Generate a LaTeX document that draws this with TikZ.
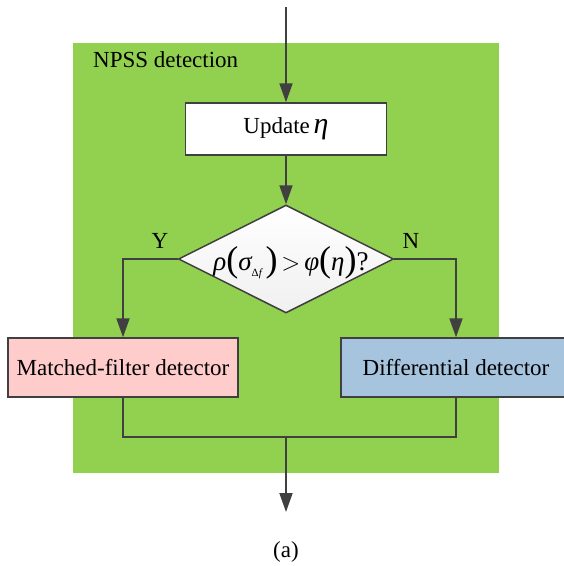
\documentclass[tikz,border=0pt]{standalone}
\usepackage{fontspec}
\setmainfont{Liberation Serif}
\usetikzlibrary{shapes.geometric,arrows.meta}
\definecolor{bggreen}{HTML}{92D050}
\definecolor{mfpink}{HTML}{FFCCCC}
\definecolor{dfblue}{HTML}{A6C4DE}
\definecolor{linegray}{HTML}{404040}
\newcommand{\gk}[1]{{\itshape #1}}
\newcommand{\bigparL}{\raisebox{-1pt}{\fontsize{36}{36}\selectfont(}}
\newcommand{\bigparR}{\raisebox{-1pt}{\fontsize{36}{36}\selectfont)}}
\begin{document}
\begin{tikzpicture}[x=1pt,y=-1pt,
  font=\fontsize{23}{27}\selectfont,
  region/.style={fill=bggreen, draw=none, inner sep=0pt},
  procbox/.style={draw=linegray, line width=1.5pt, inner sep=0pt, minimum height=58pt},
  decision/.style={shape=diamond, draw=linegray, line width=1.5pt, inner sep=0pt,
    minimum width=215pt, minimum height=108pt, top color=white, bottom color=gray!12},
  conn/.style={draw=linegray, line width=1.8pt},
  arr/.style={conn, -{Triangle[length=19pt,width=13pt]}},
  lbl/.style={inner sep=0pt}
]
\useasboundingbox (0,0) rectangle (564,566);
\fill[white] (0,0) rectangle (564,566);
\node[region, minimum width=426pt, minimum height=430pt] (bg) at (286,258) {};
\node[lbl, anchor=base west] (title) at (93,67) {NPSS detection};

\node[procbox, fill=white, minimum width=201pt, minimum height=52pt] (upd) at (286,129) {Update\,{\fontsize{30}{30}\selectfont\gk{η}}};
\node[decision] (dia) at (286,259) {};
\node[lbl, anchor=base] (cond) at (291,270) {{\fontsize{27}{30}\selectfont\gk{ρ}}\bigparL{\fontsize{27}{30}\selectfont\gk{σ}}\raisebox{-6pt}{\fontsize{11}{12}\selectfont Δ\gk{f}}\,\bigparR\,{\fontsize{24}{26}\selectfont$>$}\,{\fontsize{27}{30}\selectfont\gk{φ}}\bigparL{\fontsize{27}{30}\selectfont\gk{η}}\bigparR{\fontsize{27}{30}\selectfont ?}};
\node[procbox, fill=mfpink, minimum width=230pt, minimum height=59pt] (mf) at (123,367.5) {Matched-filter detector};
\node[procbox, fill=dfblue, minimum width=230pt, minimum height=59pt] (df) at (456,367.5) {Differential detector};

\node[lbl] (ylab) at (160,241) {Y};
\node[lbl] (nlab) at (411,241) {N};

\coordinate (start) at (286,7);
\coordinate (merge) at (286,437);
\coordinate (out) at (286,512);

\draw[arr] (start) -- (upd.north);
\draw[arr] (upd.south) -- (dia.north);
\draw[arr] (dia.west) -| (mf.north);
\draw[arr] (dia.east) -| (df.north);
\draw[conn] (mf.south) |- (merge) -| (df.south);
\draw[arr] (merge) -- (out);

\node[lbl] (cap) at (286,552) {(a)};
\end{tikzpicture}
\end{document}
